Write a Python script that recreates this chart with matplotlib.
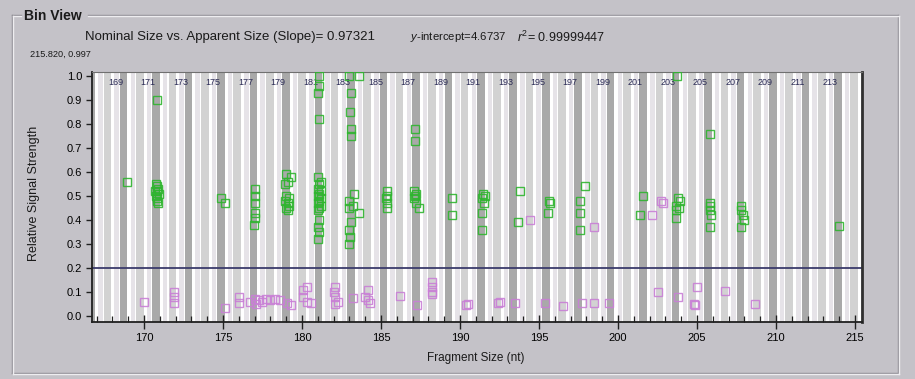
import numpy as np
import matplotlib
matplotlib.use('Agg')
import matplotlib.pyplot as plt
from matplotlib.lines import Line2D
from matplotlib.ticker import MultipleLocator, FormatStrFormatter

plt.rcParams['font.family'] = ['Liberation Sans', 'DejaVu Sans']
plt.rcParams['mathtext.fontset'] = 'custom'
plt.rcParams['mathtext.rm'] = 'Liberation Sans'
plt.rcParams['mathtext.it'] = 'Liberation Sans:italic'

# Sizing fit shown in the header.
slope = 0.97321
intercept = 4.6737
r_squared = 0.99999447

# Bins (nominal sizes); odd ones are labelled.
bin_sizes = list(range(167, 215))
bin_labels = list(range(169, 214, 2))

# Peaks above the 0.2 threshold (green).
green_x = [168.9,
           170.8, 170.75, 170.9, 170.8, 170.95, 170.75, 170.85, 170.8, 170.9, 170.7, 170.85,
           174.9, 175.1,
           177.0, 177.0, 177.05, 177.0, 177.0, 176.95,
           179.0, 179.3, 179.1, 178.9, 179.0, 179.2, 178.9, 179.1, 179.2, 179.0, 179.1,
           181.1, 181.1, 181.0, 181.1, 181.0, 181.2, 181.1, 181.0, 181.2, 181.1, 181.0,
           181.2, 181.1, 181.0, 181.2, 181.1, 181.0, 181.1, 181.0, 181.1, 181.0,
           183.0, 183.6, 183.1, 183.05, 183.1, 183.1, 183.3, 183.0, 183.2, 183.0, 183.6,
           183.1, 183.0, 183.05, 183.0,
           185.4, 185.4, 185.3, 185.4, 185.35,
           187.15, 187.15, 187.1, 187.2, 187.15, 187.1, 187.2, 187.4,
           189.5, 189.5,
           191.45, 191.4, 191.5, 191.4, 191.4, 191.6,
           193.8, 193.7,
           195.6, 195.7, 195.55,
           197.9, 197.6, 197.6, 197.6,
           201.6, 201.4,
           203.75, 203.8, 203.9, 203.7, 203.85, 203.7, 203.7,
           205.8, 205.8, 205.8, 205.8, 205.9, 205.8,
           207.8, 207.8, 207.9, 208.0, 207.8,
           214.0]
green_y = [0.56,
           0.90, 0.55, 0.53, 0.52, 0.51, 0.50, 0.49, 0.48, 0.47, 0.52, 0.54,
           0.49, 0.47,
           0.53, 0.50, 0.47, 0.43, 0.41, 0.38,
           0.59, 0.58, 0.56, 0.55, 0.50, 0.49, 0.48, 0.47, 0.46, 0.45, 0.44,
           1.00, 0.96, 0.93, 0.82, 0.58, 0.56, 0.55, 0.53, 0.52, 0.51, 0.50,
           0.49, 0.48, 0.47, 0.46, 0.45, 0.44, 0.40, 0.37, 0.35, 0.32,
           1.00, 1.00, 0.93, 0.85, 0.78, 0.75, 0.51, 0.48, 0.46, 0.45, 0.43,
           0.39, 0.36, 0.33, 0.30,
           0.52, 0.50, 0.49, 0.47, 0.45,
           0.78, 0.73, 0.52, 0.51, 0.50, 0.49, 0.47, 0.45,
           0.49, 0.42,
           0.51, 0.49, 0.47, 0.43, 0.36, 0.50,
           0.52, 0.39,
           0.48, 0.47, 0.43,
           0.54, 0.48, 0.43, 0.36,
           0.50, 0.42,
           1.00, 0.49, 0.48, 0.46, 0.45, 0.44, 0.41,
           0.76, 0.47, 0.46, 0.44, 0.42, 0.37,
           0.46, 0.44, 0.42, 0.40, 0.37,
           0.375]

# Peaks flagged by the software (pink).
pink_x = [170.0, 171.9, 171.9, 171.9, 175.1, 176.0, 176.0,
          176.7, 177.0, 177.1, 177.3, 177.5, 177.7, 178.0, 178.3, 178.6,
          179.05, 179.3, 180.06, 180.3, 180.06, 180.3, 180.6,
          182.1, 182.0, 182.1, 182.3, 182.1, 183.2,
          184.2, 184.0, 184.2, 184.3, 186.2, 187.3,
          188.2, 188.2, 188.2, 188.2, 190.4, 190.5,
          192.4, 192.5, 193.5, 194.4, 195.4, 196.5, 197.7, 198.5, 198.5, 199.4,
          202.15, 202.75, 202.85, 202.5, 203.8, 204.8, 204.85, 205.0, 206.8, 208.7]
pink_y = [0.06, 0.10, 0.08, 0.055, 0.035, 0.08, 0.055,
          0.06, 0.07, 0.05, 0.065, 0.06, 0.07, 0.065, 0.07, 0.065,
          0.055, 0.045, 0.11, 0.12, 0.08, 0.06, 0.055,
          0.12, 0.10, 0.08, 0.06, 0.05, 0.075,
          0.11, 0.08, 0.065, 0.055, 0.085, 0.045,
          0.14, 0.12, 0.10, 0.09, 0.045, 0.05,
          0.055, 0.06, 0.055, 0.40, 0.055, 0.04, 0.055, 0.055, 0.37, 0.055,
          0.42, 0.48, 0.47, 0.10, 0.08, 0.05, 0.045, 0.12, 0.105, 0.05]

threshold = 0.2

W, H = 915, 379
bg = '#c4c2c8'


def px(x, y):
    return x / W, 1 - y / H


fig = plt.figure(figsize=(W / 100, H / 100), dpi=100, facecolor=bg)

# Group box frame
def frame_line(xs, ys, color, lw=1.0):
    fig.add_artist(Line2D([x / W for x in xs], [1 - y / H for y in ys],
                          color=color, lw=lw, transform=fig.transFigure))

for off, col in ((0, '#8f8d94'), (1, '#eeedf0')):
    frame_line([88, 898 + off], [15 + off, 15 + off], col)
    frame_line([12 + off, 21], [15 + off, 15 + off], col)
    frame_line([12 + off, 12 + off], [15 + off, 373 + off], col)
    frame_line([12 + off, 898 + off], [373 + off, 373 + off], col)
    frame_line([898 + off, 898 + off], [15 + off, 373 + off], col)

fig.text(*px(24, 16), 'Bin View', fontsize=10, fontweight='bold',
         ha='left', va='center', color='#1a1a1a')
fig.text(*px(85, 37), 'Nominal Size vs. Apparent Size (Slope)= %.5f' % slope,
         fontsize=9.5, ha='left', va='center', color='#1a1a1a')
fig.text(*px(410, 37), r'$y$-intercept=%.4f' % intercept,
         fontsize=8.2, ha='left', va='center', color='#1a1a1a')
fig.text(*px(517, 37), r'$r^2$= %.8f' % r_squared,
         fontsize=9, ha='left', va='center', color='#1a1a1a')
fig.text(*px(30, 54), '215.820, 0.997', fontsize=6.6, ha='left', va='center',
         color='#1a1a1a')

ax = fig.add_axes([92 / W, 1 - 322 / H, 770 / W, 250 / H])
ax.set_facecolor('white')
ax.set_xlim(166.71, 215.44)
ax.set_ylim(-0.025, 1.0167)

# Bin bands, placed at the apparent size of each nominal bin
for n in bin_sizes:
    c = (n - intercept) / slope
    ax.axvspan(c + 0.3, c + 0.58, color='#e6e3e8', lw=0, zorder=0)
    core = '#a9a9a9' if n % 2 else '#d2d2d2'
    ax.axvspan(c - 0.38, c + 0.1, color=core, lw=0, zorder=0.5)
for n in bin_labels:
    c = (n - intercept) / slope
    ax.text(c - 0.64, 0.972, str(n), fontsize=6.5, ha='center', va='center',
            color='#2a2a55', zorder=3)

ax.axhline(threshold, color='#3b3b6b', lw=1.3, zorder=2)

ax.plot(pink_x, pink_y, 's', ms=5.5, mfc='none', mec='#c97fd6', mew=1.0,
        alpha=0.9, zorder=4)
ax.plot(green_x, green_y, 's', ms=5.5, mfc='none', mec='#2fb52f', mew=1.0,
        alpha=0.9, zorder=5)

ax.xaxis.set_major_locator(MultipleLocator(5))
ax.xaxis.set_minor_locator(MultipleLocator(1))
ax.yaxis.set_major_locator(MultipleLocator(0.1))
ax.yaxis.set_major_formatter(FormatStrFormatter('%.1f'))
ax.tick_params(axis='x', which='major', direction='inout', length=10,
               width=1.0, labelsize=8, pad=3, color='#202020')
ax.tick_params(axis='x', which='minor', direction='in', length=4,
               width=0.9, color='#202020')
ax.tick_params(axis='y', direction='out', length=4, width=1.0,
               labelsize=8, pad=3, color='#202020')

for side in ('left', 'bottom'):
    ax.spines[side].set_color('#202020')
    ax.spines[side].set_linewidth(1.3)
ax.spines['top'].set_color('#707070')
ax.spines['right'].set_color('#303030')
ax.spines['right'].set_linewidth(2)

fig.text(*px(476, 358), 'Fragment Size (nt)', fontsize=8.5, ha='center',
         va='center', color='#1a1a1a')
fig.text(*px(34, 193), 'Relative Signal Strength', fontsize=9, rotation=90,
         ha='center', va='center', color='#1a1a1a')

fig.savefig('out.png', dpi=100, facecolor=bg)
